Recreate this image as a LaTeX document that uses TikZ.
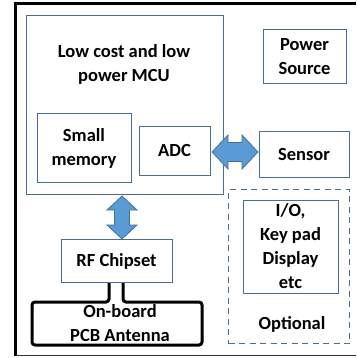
\documentclass[tikz,border=0pt]{standalone}
\usepackage{fontspec}
\setmainfont{Carlito}
\usetikzlibrary{positioning}
\definecolor{boxline}{RGB}{72,110,150}
\definecolor{arrowfill}{RGB}{91,155,213}
\definecolor{arrowline}{RGB}{65,113,156}
\tikzset{
  txt/.style={font=\fontsize{18.5}{24}\selectfont\bfseries, align=center, inner sep=0pt},
  bluebox/.style={draw=boxline, line width=1.2pt, anchor=north west, inner sep=0pt},
  optbox/.style={bluebox, dashed, dash pattern=on 6pt off 4.5pt},
  blockarrow/.style={draw=arrowline, fill=arrowfill, line width=0.8pt, line join=miter},
}
\begin{document}
\begin{tikzpicture}[x=1pt, y=-1pt]
\useasboundingbox (0,0) rectangle (356,358);
\fill[white] (0,0) rectangle (356,358);

% outer frame (open on the right)
\draw[line width=3pt, line join=miter] (356,4) -- (15.5,4) -- (15.5,356);
\draw[line width=1pt, black!80] (15.5,355.5) -- (356,355.5);

% microcontroller and its blocks
\node[bluebox, minimum width=197pt, minimum height=179pt] (mcu) at (26,15) {};
\node[txt] (mcutext) at (124,64.5) {Low cost and low\\power MCU};
\node[bluebox, minimum width=94pt, minimum height=69pt] (mem) at (37,113) {};
\node[txt] (memtext) at (84,148) {Small\\memory};
\node[bluebox, minimum width=71pt, minimum height=49pt] (adc) at (139,126) {};
\node[txt] (adctext) at (174.5,150.5) {ADC};

% right-hand column
\node[bluebox, minimum width=83pt, minimum height=54pt] (power) at (263,29) {};
\node[txt] (powertext) at (304.5,57) {Power\\Source};
\node[bluebox, minimum width=90pt, minimum height=46pt] (sensor) at (259,131) {};
\node[txt] (sensortext) at (304,155) {Sensor};

% optional peripherals
\node[optbox, minimum width=121pt, minimum height=154pt] (opt) at (228,189) {};
\node[bluebox, minimum width=95pt, minimum height=93pt] (io) at (243,200) {};
\node[txt] (iotext) at (290.5,246.5) {I/O,\\Key pad\\Display\\etc};
\node[txt] (opttext) at (292,324) {Optional};

% radio
\node[bluebox, minimum width=111pt, minimum height=43pt] (rf) at (61,239) {};
\node[txt] (rftext) at (116.5,261) {RF Chipset};

% antenna with its two feed lines
\coordinate (feedL) at (109,0 |- rf.south);
\coordinate (feedR) at (123,0 |- rf.south);
\draw[line width=3pt, rounded corners=3pt]
  (feedL) -- (109,302) -- (32,302) -- (32,345) -- (202,345) -- (202,302) -- (123,302) -- (feedR);
\node[txt] (anttext) at (120,323) {On-board\\PCB Antenna};

% block arrows: ADC <-> sensor, MCU <-> RF chipset
\coordinate (hL) at (212,152);
\coordinate (vT) at (122,196);
\draw[blockarrow] (hL) -- ++(16,-17) -- ++(0,7.5) -- ++(14,0) -- ++(0,-7.5)
  -- ++(16,17) -- ++(-16,17) -- ++(0,-7.5) -- ++(-14,0) -- ++(0,7.5) -- cycle;
\draw[blockarrow] (vT) -- ++(15,14) -- ++(-7.5,0) -- ++(0,15) -- ++(7.5,0)
  -- ++(-15,14) -- ++(-15,-14) -- ++(7.5,0) -- ++(0,-15) -- ++(-7.5,0) -- cycle;
\end{tikzpicture}
\end{document}
